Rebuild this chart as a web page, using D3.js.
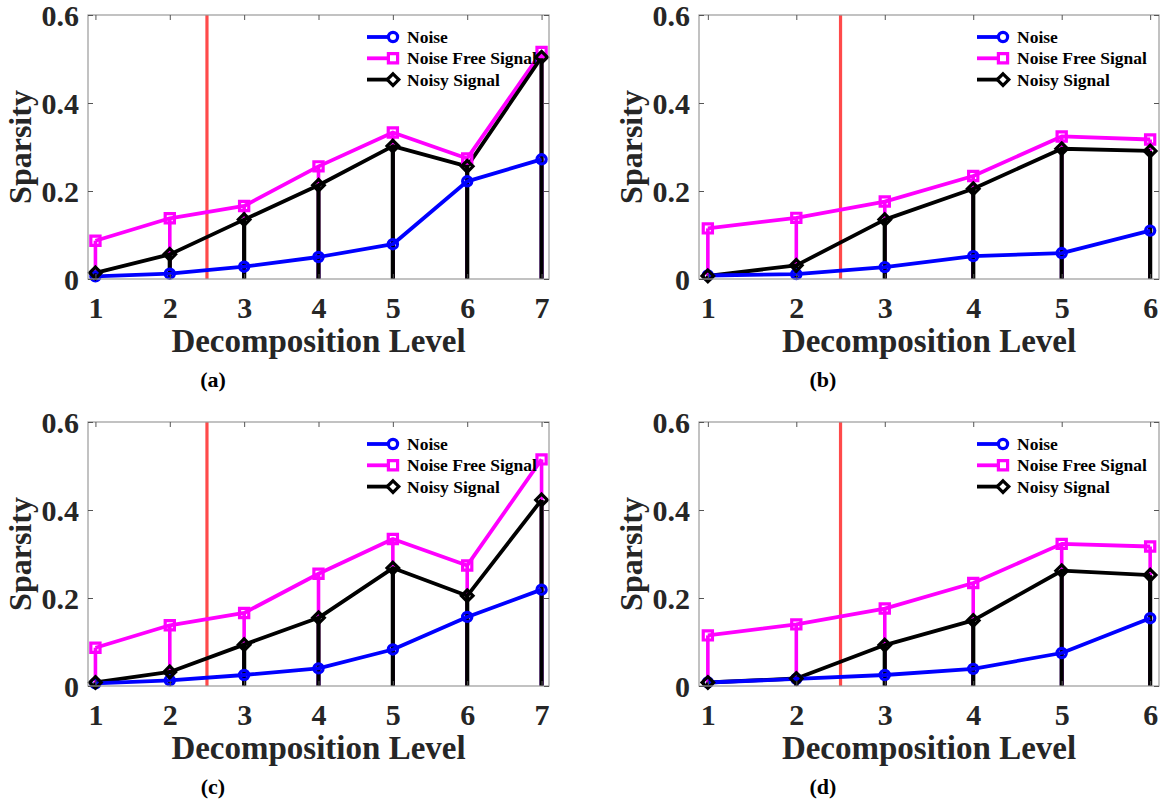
<!DOCTYPE html>
<html><head><meta charset="utf-8">
<script src="https://cdn.jsdelivr.net/npm/d3@7"></script>
<style>body{margin:0;background:#fff}svg{display:block}</style>
</head><body>
<svg id="chart" width="1163" height="801"></svg>
<script>
// ---------- data ----------
const levels7 = [1, 2, 3, 4, 5, 6, 7];
const levels6 = [1, 2, 3, 4, 5, 6];

const noiseA = [0.006, 0.012, 0.028, 0.050, 0.079, 0.222, 0.272];
const freeA  = [0.087, 0.138, 0.166, 0.256, 0.333, 0.274, 0.516];
const noisyA = [0.014, 0.056, 0.135, 0.213, 0.302, 0.256, 0.504];

const noiseB = [0.008, 0.011, 0.027, 0.052, 0.059, 0.110];
const freeB  = [0.115, 0.139, 0.176, 0.234, 0.324, 0.317];
const noisyB = [0.007, 0.031, 0.135, 0.205, 0.296, 0.291];

const noiseC = [0.006, 0.013, 0.025, 0.040, 0.083, 0.157, 0.219];
const freeC  = [0.087, 0.138, 0.166, 0.255, 0.334, 0.274, 0.515];
const noisyC = [0.008, 0.032, 0.094, 0.155, 0.268, 0.205, 0.423];

const noiseD = [0.008, 0.016, 0.025, 0.039, 0.075, 0.154];
const freeD  = [0.115, 0.140, 0.176, 0.234, 0.323, 0.317];
const noisyD = [0.008, 0.017, 0.093, 0.149, 0.262, 0.252];

const yTicks = [0, 0.2, 0.4, 0.6];
const yTickLabels = ["0", "0.2", "0.4", "0.6"];
const seriesNames = ["Noise", "Noise Free Signal", "Noisy Signal"];
const seriesColors = ["#0000ff", "#ff00ff", "#000000"];
const seriesMarkers = ["circle", "square", "diamond"];
const panelLabels = ["(a)", "(b)", "(c)", "(d)"];
const thresholdLevel = 2.5;
const xLabel = "Decomposition Level";
const yLabel = "Sparsity";

// ---------- layout ----------
const panels = [
  {levels: levels7, series: [noiseA, freeA, noisyA], box: {l: 88,  r: 549,  t: 15,  b: 279}, capX: 213},
  {levels: levels6, series: [noiseB, freeB, noisyB], box: {l: 699, r: 1159, t: 15,  b: 279}, capX: 823},
  {levels: levels7, series: [noiseC, freeC, noisyC], box: {l: 88,  r: 549,  t: 422, b: 686}, capX: 213},
  {levels: levels6, series: [noiseD, freeD, noisyD], box: {l: 699, r: 1159, t: 422, b: 686}, capX: 823}
];

const FONT = "'Liberation Serif','Times New Roman',Times,serif";
const TXT = "#262626";
const stemWidths = [3.6, 3.6, 4.2];
const svg = d3.select("#chart");

function markerPath(type, cx, cy) {
  const s = 4.6;
  if (type === "circle") {
    return `M${cx + s},${cy}A${s},${s} 0 1,1 ${cx - s},${cy}A${s},${s} 0 1,1 ${cx + s},${cy}Z`;
  } else if (type === "square") {
    return `M${cx - s},${cy - s}H${cx + s}V${cy + s}H${cx - s}Z`;
  } else {
    const d = 5.8;
    return `M${cx},${cy - d}L${cx + d},${cy}L${cx},${cy + d}L${cx - d},${cy}Z`;
  }
}

panels.forEach((p, pi) => {
  const g = svg.append("g");
  const n = p.levels.length;
  const x = d3.scaleLinear().domain([0.9, n + 0.1]).range([p.box.l, p.box.r]);
  const y = d3.scaleLinear().domain([0, 0.6]).range([p.box.b, p.box.t]);

  // threshold red line
  g.append("line")
    .attr("x1", x(thresholdLevel)).attr("x2", x(thresholdLevel))
    .attr("y1", y(0)).attr("y2", y(0.6))
    .attr("stroke", "#ff2a2a").attr("stroke-opacity", 0.85).attr("stroke-width", 3.2);

  // stems: blue, magenta, black
  [0, 1, 2].forEach(si => {
    g.append("g").selectAll("line").data(p.levels).join("line")
      .attr("x1", d => x(d)).attr("x2", d => x(d))
      .attr("y1", y(0)).attr("y2", (d, i) => y(p.series[si][i]))
      .attr("stroke", seriesColors[si]).attr("stroke-width", stemWidths[si]);
  });
  // lines: magenta, black, blue
  [1, 2, 0].forEach(si => {
    const line = d3.line().x(d => x(d[0])).y(d => y(d[1]));
    g.append("path")
      .datum(p.levels.map((l, i) => [l, p.series[si][i]]))
      .attr("d", line).attr("fill", "none")
      .attr("stroke", seriesColors[si]).attr("stroke-width", 3.8)
      .attr("stroke-linejoin", "round");
  });
  // markers: magenta, blue, black
  [1, 0, 2].forEach(si => {
    g.append("g").selectAll("path").data(p.levels).join("path")
      .attr("d", (d, i) => markerPath(seriesMarkers[si], x(d), y(p.series[si][i])))
      .attr("fill", "none").attr("stroke", seriesColors[si]).attr("stroke-width", 3.2);
  });

  // box
  g.append("rect")
    .attr("x", p.box.l).attr("y", p.box.t)
    .attr("width", p.box.r - p.box.l).attr("height", p.box.b - p.box.t)
    .attr("fill", "none").attr("stroke", "#9a9a9a").attr("stroke-width", 1.2);

  // axes with inward ticks (bottom/top/left/right)
  const xb = d3.axisBottom(x).tickValues(p.levels).tickFormat(d3.format("d")).tickSizeInner(-5).tickSizeOuter(0);
  const xt = d3.axisTop(x).tickValues(p.levels).tickFormat("").tickSizeInner(-5).tickSizeOuter(0);
  const yl = d3.axisLeft(y).tickValues(yTicks).tickFormat((d, i) => yTickLabels[i]).tickSizeInner(-5).tickSizeOuter(0);
  const yr = d3.axisRight(y).tickValues(yTicks).tickFormat("").tickSizeInner(-5).tickSizeOuter(0);

  const gxb = g.append("g").attr("transform", `translate(0,${p.box.b})`).call(xb);
  const gxt = g.append("g").attr("transform", `translate(0,${p.box.t})`).call(xt);
  const gyl = g.append("g").attr("transform", `translate(${p.box.l},0)`).call(yl);
  const gyr = g.append("g").attr("transform", `translate(${p.box.r},0)`).call(yr);
  [gxb, gxt, gyl, gyr].forEach(a => {
    a.select(".domain").remove();
    a.selectAll(".tick line").attr("stroke", "#555").attr("stroke-width", 1);
  });
  gxb.selectAll(".tick text")
    .attr("y", 0).attr("dy", 0).attr("transform", "translate(0,39)")
    .attr("font-family", FONT).attr("font-weight", "bold").attr("font-size", 30).attr("fill", TXT);
  gyl.selectAll(".tick text")
    .attr("x", -9).attr("dy", "0.34em")
    .attr("font-family", FONT).attr("font-weight", "bold").attr("font-size", 30).attr("fill", TXT);

  // axis labels
  g.append("text")
    .attr("x", (p.box.l + p.box.r) / 2).attr("y", p.box.b + 73)
    .attr("text-anchor", "middle")
    .attr("font-family", FONT).attr("font-weight", "bold").attr("font-size", 33).attr("fill", TXT)
    .text(xLabel);
  g.append("text")
    .attr("transform", `translate(${p.box.l - 57},${(p.box.t + p.box.b) / 2}) rotate(-90)`)
    .attr("text-anchor", "middle")
    .attr("font-family", FONT).attr("font-weight", "bold").attr("font-size", 32).attr("fill", TXT)
    .text(yLabel);

  // subcaption
  g.append("text")
    .attr("x", p.capX).attr("y", p.box.b + 108)
    .attr("text-anchor", "middle")
    .attr("font-family", FONT).attr("font-weight", "bold").attr("font-size", 22).attr("fill", "#000")
    .text(panelLabels[pi]);

  // legend
  const lg = g.append("g").attr("transform", `translate(${p.box.r - 182},${p.box.t + 22})`);
  seriesNames.forEach((name, si) => {
    const row = lg.append("g").attr("transform", `translate(0,${si * 21.3})`);
    row.append("line").attr("x1", 0).attr("x2", 26).attr("y1", 0).attr("y2", 0)
      .attr("stroke", seriesColors[si]).attr("stroke-width", 3.8);
    row.append("path").attr("d", markerPath(seriesMarkers[si], 26, 0))
      .attr("fill", "#fff").attr("stroke", seriesColors[si]).attr("stroke-width", 3.2);
    row.append("text").attr("x", 40).attr("y", 0).attr("dy", "0.35em")
      .attr("font-family", FONT).attr("font-weight", "bold").attr("font-size", 17.5).attr("fill", "#000")
      .text(name);
  });
});
</script>
</body></html>
